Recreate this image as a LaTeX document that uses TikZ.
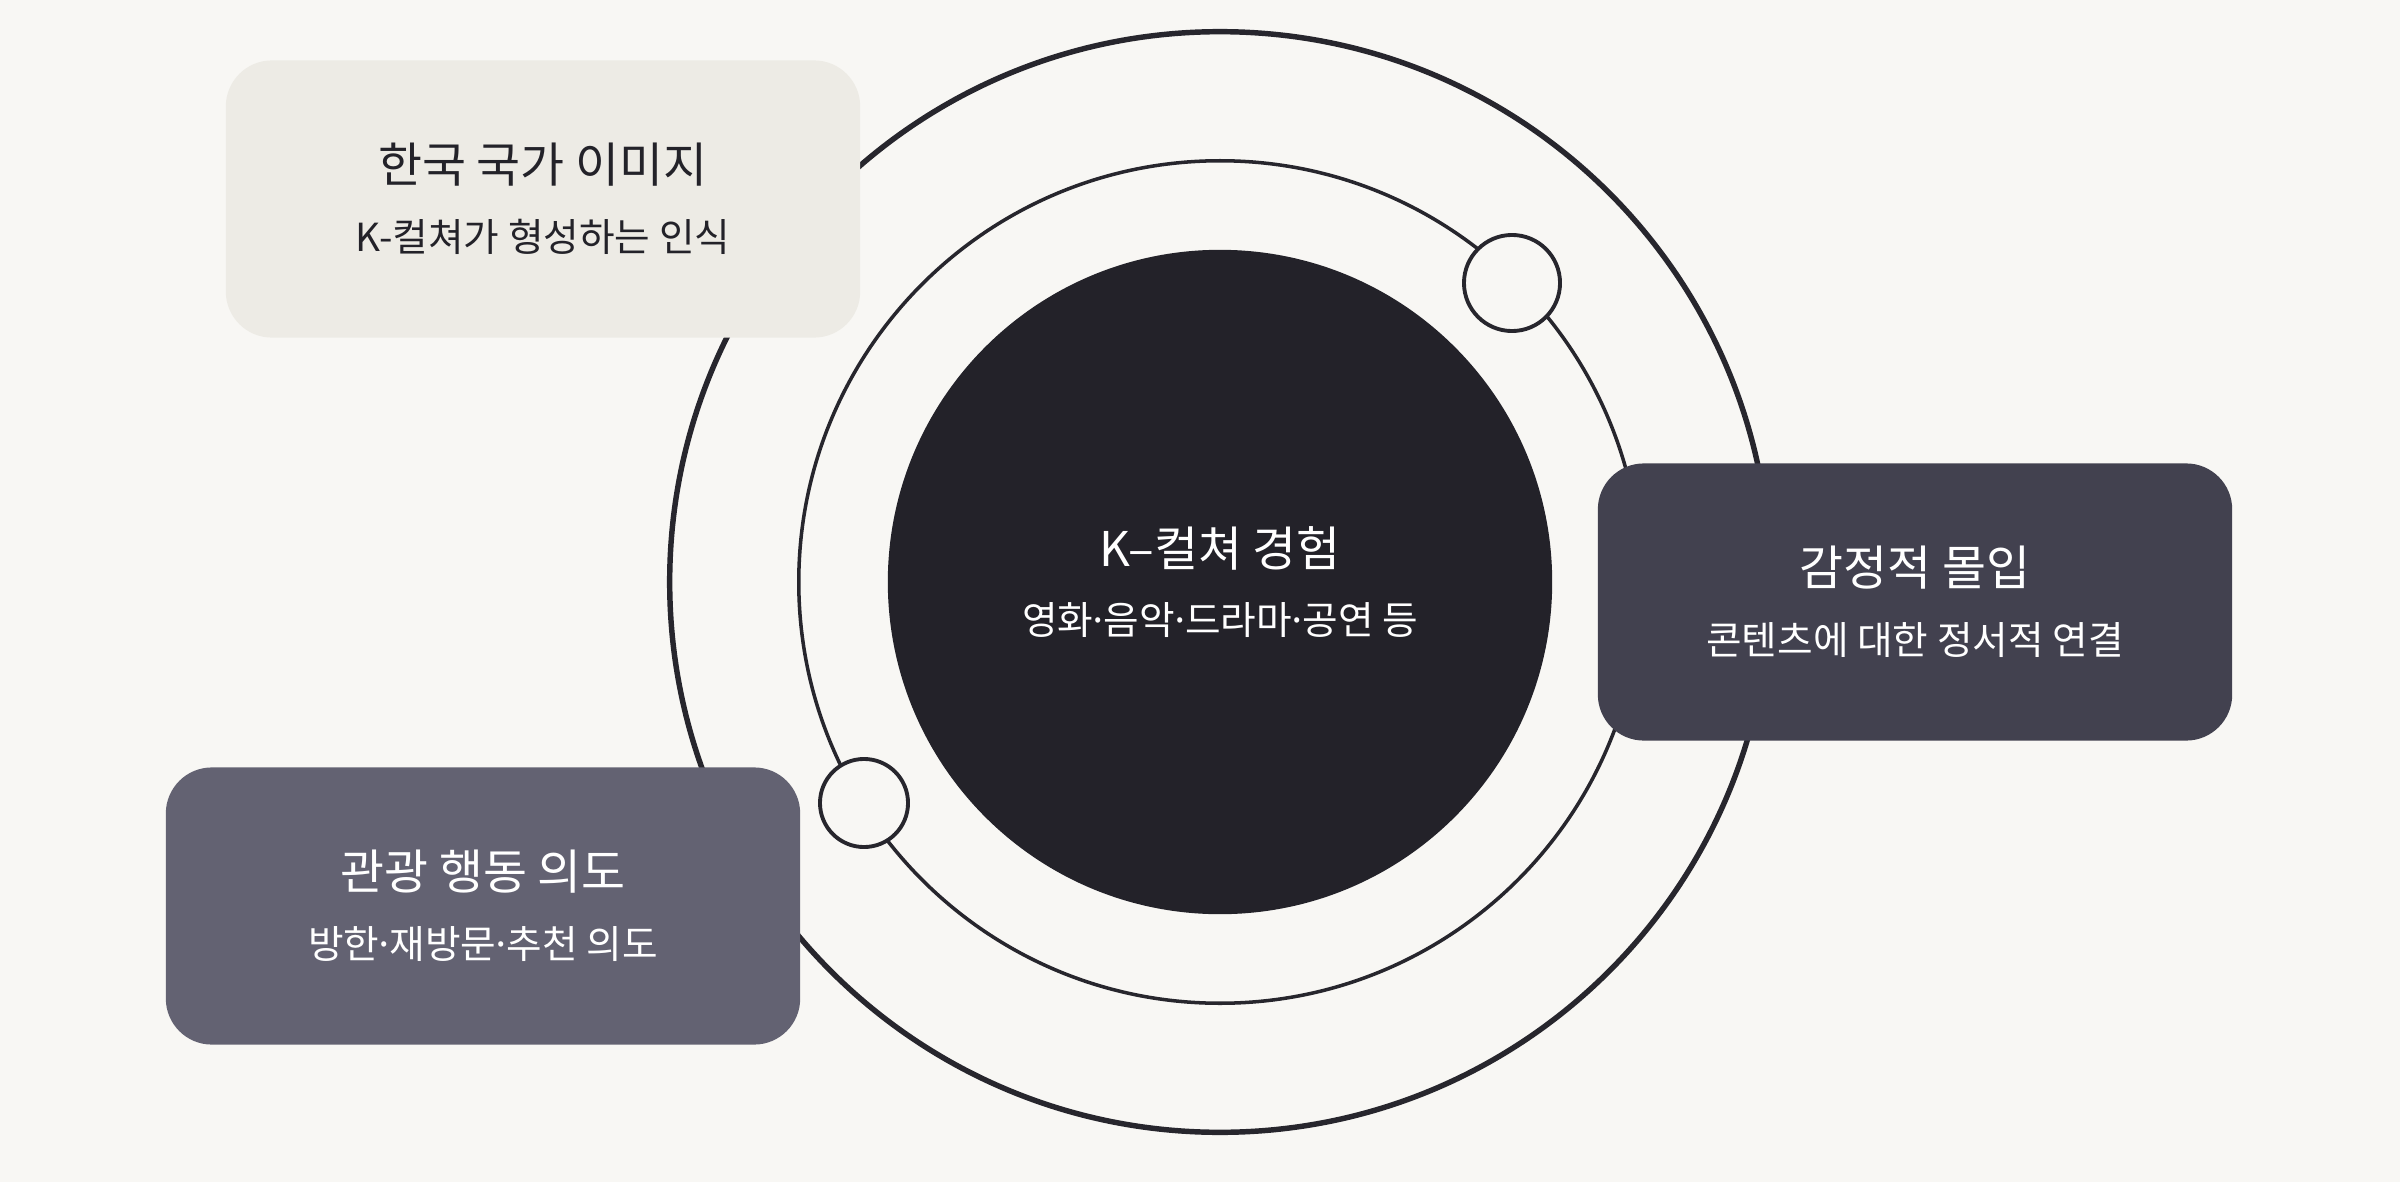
\documentclass[tikz,border=0pt]{standalone}
\usepackage{xcolor}
\usepackage{tikz}
\usepackage{fontspec}
\setmainfont{Noto Sans CJK KR}
\definecolor{kbg}{HTML}{F8F7F4}
\definecolor{kink}{HTML}{27262D}
\definecolor{kcore}{HTML}{232229}
\definecolor{kpale}{HTML}{EDEBE5}
\definecolor{kslate}{HTML}{42414F}
\definecolor{kmauve}{HTML}{636272}
\newcommand{\cardhead}[1]{{\fontsize{13.6pt}{19.5pt}\selectfont #1}}
\newcommand{\mdot}{\kern-1.6pt·\kern-1.6pt}

\begin{document}
\begin{tikzpicture}[x=0.01cm,y=-0.01cm,
  ringline/.style={draw=kink,circle,inner sep=0pt,outer sep=0pt},
  card/.style={rounded corners=0.46cm,minimum width=6.34cm,minimum height=2.77cm,
    align=center,inner sep=0pt,font=\fontsize{11pt}{19.5pt}\selectfont}]
  \fill[kbg] (0,0) rectangle (2400,1182);
  \node[ringline,line width=1.55pt,minimum size=11cm] (orbit) at (1220,582) {};
  \node[ringline,line width=1pt,minimum size=8.42cm] (ring) at (1220,582) {};
  \node[circle,fill=kcore,minimum size=6.64cm,align=center,text=white,
    font=\fontsize{11pt}{19.5pt}\selectfont] (core) at (1220,582)
    {\cardhead{K–컬쳐 경험}\\영화\mdot 음악\mdot 드라마\mdot 공연 등};
  \node[ringline,fill=kbg,line width=1.1pt,minimum size=0.96cm] (dotA) at (1512,283) {};
  \node[ringline,fill=kbg,line width=1.1pt,minimum size=0.88cm] (dotB) at (864,803) {};
  \node[card,fill=kpale,text=kcore] (image) at (543,199)
    {\cardhead{한국 국가 이미지}\\K-컬쳐가 형성하는 인식};
  \node[card,fill=kslate,text=white] (immersion) at (1915,602)
    {\cardhead{감정적 몰입}\\콘텐츠에 대한 정서적 연결};
  \node[card,fill=kmauve,text=white] (intent) at (483,906)
    {\cardhead{관광 행동 의도}\\방한\mdot 재방문\mdot 추천 의도};
\end{tikzpicture}
\end{document}
